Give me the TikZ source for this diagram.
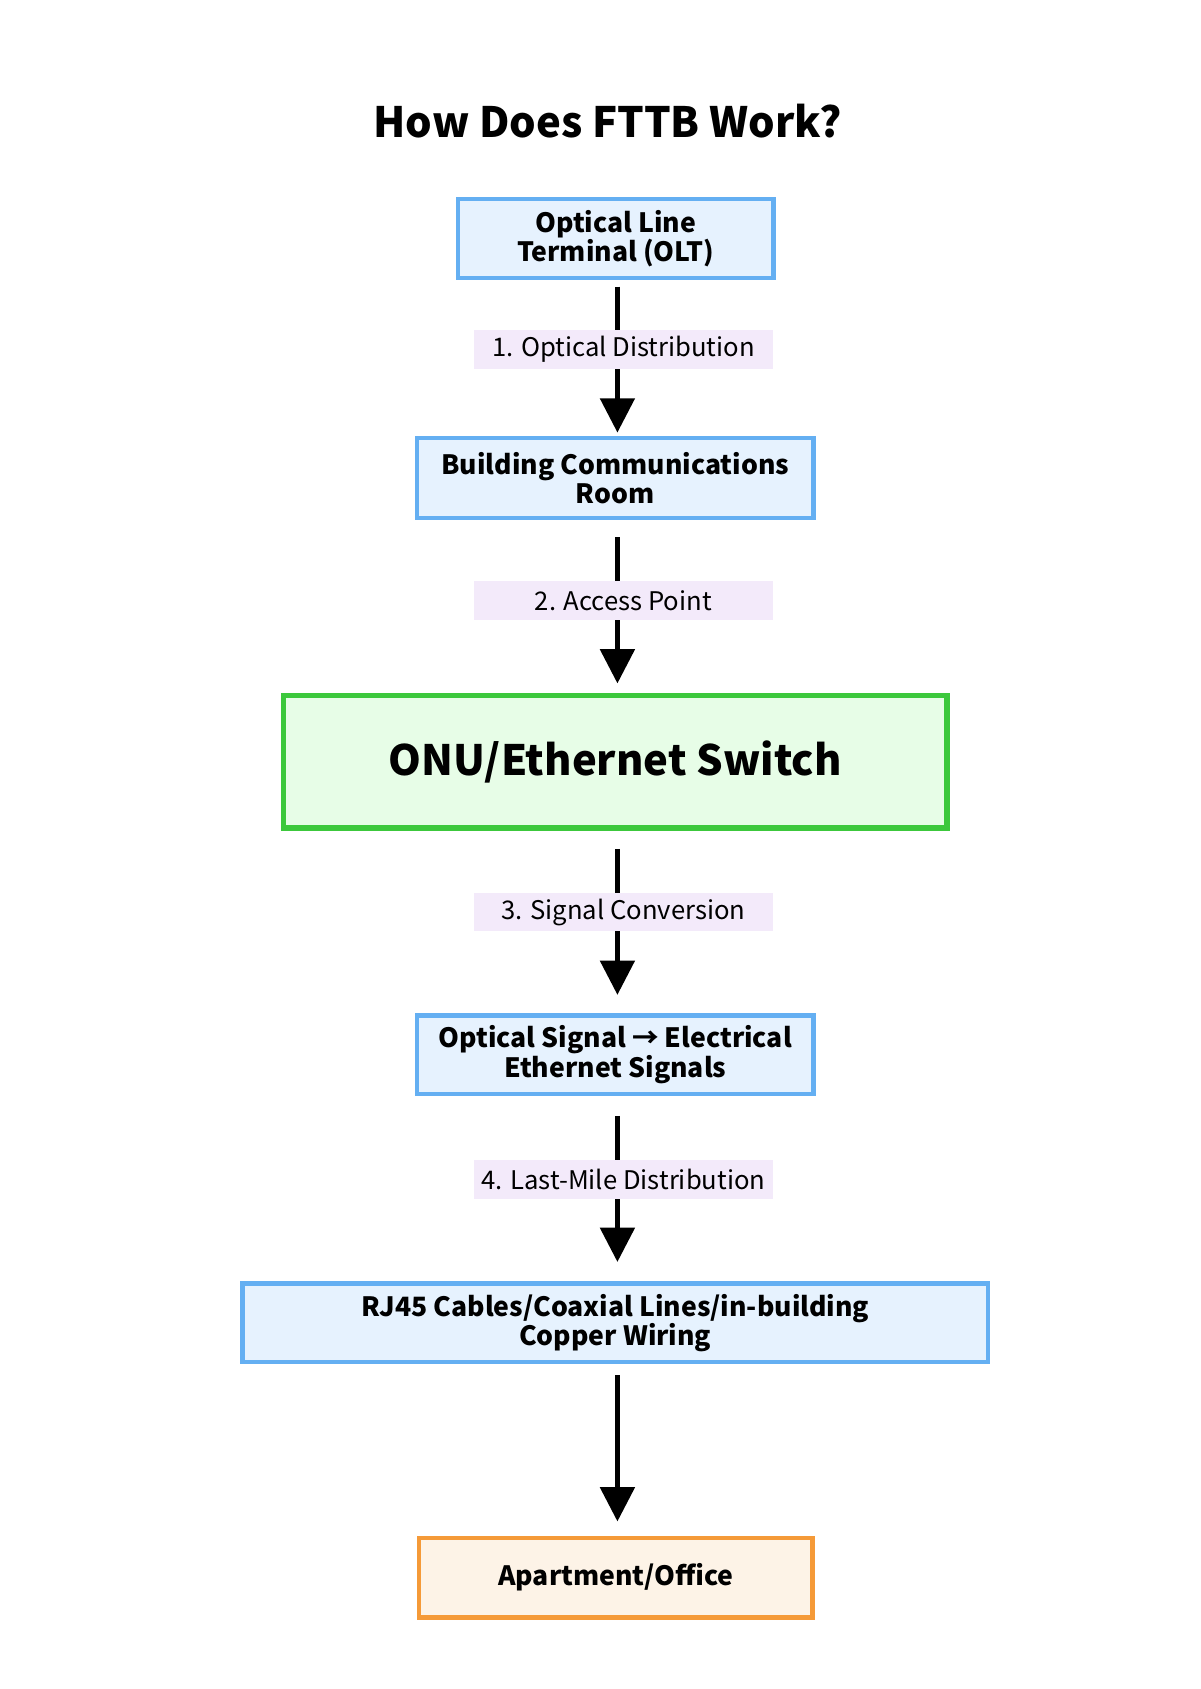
\documentclass[tikz,border=0pt]{standalone}
\usepackage{fontspec}
\setmainfont{Noto Sans CJK SC}
\usetikzlibrary{arrows.meta}
\definecolor{bb}{HTML}{64AFF2}
\definecolor{bf}{HTML}{E6F2FE}
\definecolor{gb}{HTML}{3CC83C}
\definecolor{gf}{HTML}{E7FDE7}
\definecolor{ob}{HTML}{F59A38}
\definecolor{of}{HTML}{FDF3E7}
\definecolor{lf}{HTML}{F3EAFA}
\tikzset{
 bluebox/.style={draw=bb,fill=bf,line width=2.3pt,font=\fontsize{14}{15.5}\selectfont\bfseries,align=center,inner sep=0pt},
 lbl/.style={fill=lf,font=\fontsize{13.5}{15}\selectfont,minimum width=277*0.567pt,minimum height=36*0.567pt,inner sep=0pt},
 arr/.style={line width=2.3pt,-{Triangle[length=18pt,width=18pt]}}
}
\begin{document}
\begin{tikzpicture}[x=0.02cm,y=-0.02cm]
\useasboundingbox (0,0) rectangle (1110,1562);
\node[font=\fontsize{22}{24}\selectfont\bfseries] (t) at (562,112) {How Does FTTB Work?};
\node[bluebox,minimum width=293*0.567pt,minimum height=73*0.567pt] (b1) at (569.5,220.5) {Optical Line\\Terminal (OLT)};
\node[bluebox,minimum width=368*0.567pt,minimum height=74*0.567pt] (b2) at (569,442) {Building Communications\\Room};
\node[draw=gb,fill=gf,line width=2.8pt,font=\fontsize{22}{24}\selectfont\bfseries,minimum width=616*0.567pt,minimum height=123*0.567pt,inner sep=0pt] (b3) at (569,704.5) {ONU/Ethernet Switch};
\node[bluebox,minimum width=368*0.567pt,minimum height=73*0.567pt] (b4) at (569,975.5) {Optical Signal → Electrical\\Ethernet Signals};
\node[bluebox,minimum width=692*0.567pt,minimum height=73*0.567pt] (b5) at (569,1223.5) {RJ45 Cables/Coaxial Lines/in-building\\Copper Wiring};
\node[draw=ob,fill=of,line width=2.3pt,font=\fontsize{14}{15.5}\selectfont\bfseries,minimum width=365*0.567pt,minimum height=74*0.567pt,inner sep=0pt] (b6) at (569.5,1459) {Apartment/Office};
\coordinate (s1) at (571,265); \coordinate (e1) at (571,400);
\coordinate (s2) at (571,497); \coordinate (e2) at (571,632);
\coordinate (s3) at (571,785); \coordinate (e3) at (571,920);
\coordinate (s4) at (571,1032); \coordinate (e4) at (571,1167);
\coordinate (s5) at (571,1272); \coordinate (e5) at (571,1407);
\draw[arr] (s1) -- (e1);
\draw[arr] (s2) -- (e2);
\draw[arr] (s3) -- (e3);
\draw[arr] (s4) -- (e4);
\draw[arr] (s5) -- (e5);
\node[lbl] (l1) at (576.5,323) {1. Optical Distribution};
\node[lbl] (l2) at (576.5,555.5) {2. Access Point};
\node[lbl] (l3) at (576.5,843.5) {3. Signal Conversion};
\node[lbl] (l4) at (576.5,1090.5) {4. Last-Mile Distribution};
\end{tikzpicture}
\end{document}
